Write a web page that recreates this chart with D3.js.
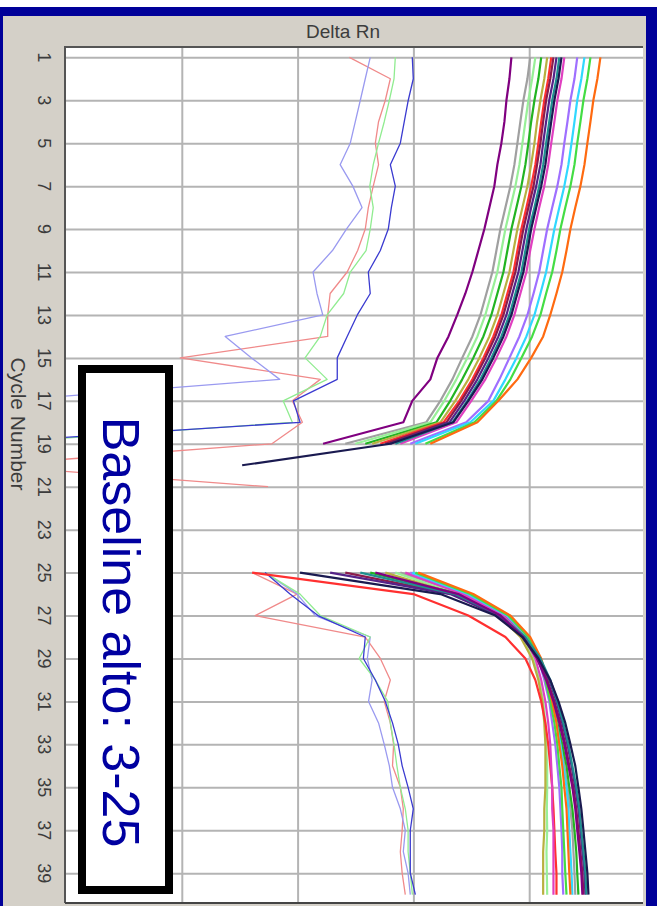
<!DOCTYPE html>
<html>
<head>
<meta charset="utf-8">
<script src="https://cdn.jsdelivr.net/npm/d3@7/dist/d3.min.js"></script>
<style>
  html, body { margin: 0; padding: 0; background: #ffffff; }
  svg { display: block; }
</style>
</head>
<body>
<svg id="chart" width="660" height="906"></svg>
<script>
// ---- Axis tick labels --------------------------------------------------
const cycleTicks = [1, 3, 5, 7, 9, 11, 13, 15, 17, 19, 21, 23, 25, 27, 29, 31, 33, 35, 37, 39];
const deltaRnGrid = [0.001, 0.01, 0.1, 1];

// ---- Cycles covered by each section of the curves ----------------------
const topCycles = [1, 2, 3, 4, 5, 6, 7, 8, 9, 10, 11, 12, 13, 14, 15, 16, 17, 18, 19, 20, 21];
const bottomCycles = [25, 26, 27, 28, 29, 30, 31, 32, 33, 34, 35, 36, 37, 38, 39, 40];

// ---- Sample wells: Delta Rn, cycles 1-19(20) and 25-40 -----------------
const wellColors = ["#a0a0a0", "#98f098", "#22b422", "#b8b040", "#ff3030", "#e040c0",
                    "#9f6fff", "#30d8ff", "#44dd44", "#ff6a10", "#8b1c4b", "#552288",
                    "#1f8f8f", "#800080", "#1a1a50"];

const grayTop   = [1.02, .965, .891, .839, .791, .745, .688, .623, .564, .521, .481, .427, .379, .323, .264, .217, .171, .129, .0258];
const grayBot   = [.0771, .281, .623, .946, 1.20, 1.40, 1.58, 1.75, 1.90, 2.01, 2.14, 2.27, 2.36, 2.41, 2.46, 2.50];
const lgreenTop = [1.13, 1.06, .984, .927, .874, .823, .760, .688, .623, .575, .531, .471, .418, .357, .292, .235, .185, .140, .0315];
const lgreenBot = [.0698, .244, .564, .874, 1.09, 1.22, 1.32, 1.38, 1.40, 1.43, 1.43, 1.42, 1.43, 1.41, 1.42, 1.43];
const greenTop  = [1.27, 1.20, 1.11, 1.04, .984, .927, .856, .776, .702, .648, .599, .531, .471, .402, .329, .264, .208, .158, .0384];
const greenBot  = [.0424, .254, .599, .927, 1.20, 1.40, 1.58, 1.75, 1.93, 2.10, 2.22, 2.36, 2.46, 2.55, 2.60, 2.66];
const oliveTop  = [1.43, 1.35, 1.25, 1.17, 1.11, 1.04, .965, .874, .791, .731, .675, .599, .531, .453, .371, .298, .230, .171, .0441];
const oliveBot  = [.0572, .230, .542, .839, 1.06, 1.20, 1.30, 1.35, 1.38, 1.38, 1.38, 1.35, 1.35, 1.32, 1.32, 1.32];
const redTop    = [1.55, 1.46, 1.35, 1.27, 1.20, 1.13, 1.04, .946, .856, .791, .731, .648, .575, .490, .402, .323, .249, .182, .0518];
const redBot    = [.00405, .0998, .298, .623, .927, 1.13, 1.27, 1.38, 1.46, 1.52, 1.58, 1.62, 1.65, 1.68, 1.72, 1.72];
const magTop    = [2.01, 1.90, 1.75, 1.65, 1.55, 1.46, 1.35, 1.22, 1.11, 1.02, .946, .839, .745, .636, .521, .418, .316, .235, .0771];
const magBot    = [.0851, .264, .599, .909, 1.13, 1.27, 1.38, 1.46, 1.52, 1.55, 1.58, 1.58, 1.62, 1.62, 1.62, 1.62];
const violetTop = [2.60, 2.46, 2.27, 2.14, 2.01, 1.90, 1.75, 1.58, 1.43, 1.32, 1.22, 1.09, .965, .823, .675, .553, .444, .286, .094];
const violetBot = [.094, .292, .636, .965, 1.20, 1.35, 1.49, 1.58, 1.68, 1.75, 1.82, 1.86, 1.90, 1.93, 1.93, 1.97];
const cyanTop   = [3.00, 2.82, 2.60, 2.46, 2.32, 2.18, 2.01, 1.82, 1.65, 1.52, 1.40, 1.25, 1.11, .946, .776, .623, .490, .310, .104];
const cyanBot   = [.0978, .298, .648, .984, 1.25, 1.43, 1.58, 1.72, 1.86, 1.97, 2.10, 2.18, 2.22, 2.27, 2.32, 2.36];
const bgreenTop = [3.38, 3.18, 2.94, 2.77, 2.60, 2.46, 2.27, 2.05, 1.86, 1.72, 1.58, 1.40, 1.25, 1.06, .856, .688, .521, .336, .127];
const bgreenBot = [.104, .310, .661, .984, 1.22, 1.38, 1.52, 1.65, 1.75, 1.82, 1.90, 1.93, 1.97, 2.01, 2.05, 2.10];
const orangeTop = [4.12, 3.88, 3.58, 3.38, 3.18, 3.00, 2.77, 2.50, 2.27, 2.10, 1.93, 1.72, 1.52, 1.32, 1.04, .791, .542, .357, .140];
const orangeBot = [.110, .329, .688, 1.02, 1.27, 1.43, 1.58, 1.72, 1.82, 1.93, 2.01, 2.10, 2.14, 2.18, 2.22, 2.27];
const maroonTop = [1.62, 1.52, 1.40, 1.32, 1.25, 1.17, 1.09, .984, .891, .823, .760, .675, .599, .510, .418, .336, .259, .193, .0572];
const maroonBot = [.0258, .217, .531, .874, 1.17, 1.43, 1.65, 1.86, 2.05, 2.22, 2.41, 2.55, 2.66, 2.77, 2.88, 2.94];
const dpurpTop  = [1.72, 1.62, 1.49, 1.40, 1.32, 1.25, 1.15, 1.04, .946, .874, .807, .716, .636, .542, .444, .357, .275, .205, .0632];
const dpurpBot  = [.0191, .208, .542, .909, 1.22, 1.49, 1.72, 1.93, 2.14, 2.32, 2.50, 2.66, 2.77, 2.88, 3.00, 3.06];
const tealTop   = [1.82, 1.72, 1.58, 1.49, 1.40, 1.32, 1.22, 1.11, 1.00, .927, .856, .760, .675, .575, .471, .379, .292, .217, .0698];
const tealBot   = [.0348, .230, .564, .927, 1.25, 1.52, 1.75, 1.97, 2.18, 2.36, 2.55, 2.71, 2.82, 2.94, 3.06, 3.12];
const purpleTop = [.702, .675, .636, .611, .575, .531, .500, .453, .410, .364, .323, .281, .239, .201, .161, .140, .0978, .0818, .0166];
const purpleBot = [.0469, .244, .564, .891, 1.17, 1.40, 1.62, 1.82, 2.01, 2.18, 2.36, 2.50, 2.60, 2.71, 2.82, 2.88];
const navyTop   = [1.90, 1.79, 1.65, 1.55, 1.46, 1.38, 1.27, 1.15, 1.04, .965, .891, .791, .702, .599, .490, .394, .298, .221, .0632, .00332];
const navyBot   = [.0105, .171, .510, .874, 1.20, 1.52, 1.79, 2.05, 2.27, 2.50, 2.66, 2.82, 2.94, 3.06, 3.18, 3.25];

const wellTops = [grayTop, lgreenTop, greenTop, oliveTop, redTop, magTop, violetTop, cyanTop,
                  bgreenTop, orangeTop, maroonTop, dpurpTop, tealTop, purpleTop, navyTop];
const wellBots = [grayBot, lgreenBot, greenBot, oliveBot, redBot, magBot, violetBot, cyanBot,
                  bgreenBot, orangeBot, maroonBot, dpurpBot, tealBot, purpleBot, navyBot];

// ---- No-template controls ----------------------------------------------
const ntcColors = ["#f08a8a", "#9a9af0", "#90ec90", "#3a3ad0"];
const ntcRedTop   = [.0280, .0632, .0572, .0500, .0469, .0500, .0450, .0408, .0384, .0330, .0268, .0191, .0182, .0182, .00097, .0157, .0090, .0110, .0060, .00002, .00556];
const ntcRedBot   = [.00405, .0099, .0043, .0384, .0518, .0632, .0560, .0632, .0675, .0660, .0771, .0818, .0800, .0771, .0800, .0851];
const ntcLavTop   = [.0424, .0384, .0348, .0315, .0285, .0233, .0300, .0360, .0264, .0200, .0136, .0147, .0165, .00237, .0040, .0070, .00003];
const ntcLavBot   = [.00524, .0099, .0142, .0424, .0400, .0440, .0410, .0500, .0560, .0620, .0660, .0771, .0851, .0818, .0900, .0940];
const ntcGreenTop = [.0698, .0680, .0620, .0560, .0500, .0450, .0420, .0450, .0424, .0390, .0285, .0250, .0180, .0157, .0116, .0180, .0075, .0090, .00002];
const ntcGreenBot = [.00524, .0105, .0157, .0424, .0340, .0469, .0600, .0632, .0680, .0720, .0771, .0851, .0900, .0900, .0940, .0980];
const ntcBlueTop  = [.0978, .0998, .0903, .0834, .0771, .0632, .0698, .0645, .0607, .0518, .0408, .0424, .0328, .0268, .0220, .0220, .0092, .0105, .000013];
const ntcBlueBot  = [.00524, .0086, .0150, .0384, .0370, .0469, .0572, .0660, .0740, .0800, .0900, .0998, .0940, .0940, .0940, .104];

const ntcTops = [ntcRedTop, ntcLavTop, ntcGreenTop, ntcBlueTop];
const ntcBots = [ntcRedBot, ntcLavBot, ntcGreenBot, ntcBlueBot];

// ---- Layout --------------------------------------------------------------
const W = 660, H = 906;
const plot = { left: 65, top: 47, right: 643, bottom: 903 };

const svg = d3.select("#chart");

const x = d3.scaleLog().domain([1e-4, 10]).range([66, 645]);
const y = d3.scaleLinear().domain([1, 39]).range([57.3, 873.2]);

// window frame
svg.append("rect").attr("x", 0).attr("y", 7).attr("width", 657).attr("height", H - 7).attr("fill", "#000099");
svg.append("rect").attr("x", 3).attr("y", 16).attr("width", 643).attr("height", H - 16).attr("fill", "#d4d0c8");

// plot background
svg.append("rect")
  .attr("x", plot.left).attr("y", plot.top)
  .attr("width", plot.right - plot.left).attr("height", plot.bottom - plot.top)
  .attr("fill", "#ffffff");

svg.append("clipPath").attr("id", "plotClip")
  .append("rect")
  .attr("x", plot.left).attr("y", plot.top)
  .attr("width", plot.right - plot.left).attr("height", plot.bottom - plot.top);

// grid lines
const gridColor = "#b4b4b4";
const yGrid = svg.append("g")
  .attr("transform", `translate(${plot.left},0)`)
  .call(d3.axisLeft(y).tickValues(cycleTicks).tickSize(-(plot.right - plot.left)).tickFormat(""));
yGrid.select(".domain").remove();
yGrid.selectAll("line").attr("stroke", gridColor).attr("stroke-width", 2);

const xGrid = svg.append("g")
  .attr("transform", `translate(0,${plot.top})`)
  .call(d3.axisTop(x).tickValues(deltaRnGrid).tickSize(-(plot.bottom - plot.top)).tickFormat(""));
xGrid.select(".domain").remove();
xGrid.selectAll("line").attr("stroke", gridColor).attr("stroke-width", 2);

// curves
const curves = svg.append("g").attr("clip-path", "url(#plotClip)");

function drawSeries(cycles, values, color, width) {
  const pts = values.map((v, i) => [cycles[i], v]);
  const line = d3.line()
    .defined(d => d[1] != null && d[1] > 0)
    .x(d => x(d[1]))
    .y(d => y(d[0]));
  curves.append("path")
    .attr("d", line(pts))
    .attr("fill", "none")
    .attr("stroke", color)
    .attr("stroke-width", width)
    .attr("stroke-linejoin", "round");
}

ntcTops.forEach((vals, i) => drawSeries(topCycles, vals, ntcColors[i], 1.3));
ntcBots.forEach((vals, i) => drawSeries(bottomCycles, vals, ntcColors[i], 1.3));
wellTops.forEach((vals, i) => drawSeries(topCycles, vals, wellColors[i], 2.2));
wellBots.forEach((vals, i) => drawSeries(bottomCycles, vals, wellColors[i], 2.2));

// plot border (sunken)
svg.append("path")
  .attr("d", `M${plot.left},${plot.bottom} V${plot.top} H${plot.right}`)
  .attr("fill", "none").attr("stroke", "#555555").attr("stroke-width", 2);
svg.append("path")
  .attr("d", `M${plot.left},${plot.bottom} H${plot.right}`)
  .attr("fill", "none").attr("stroke", "#444444").attr("stroke-width", 2);

// cycle tick labels (rotated)
const labelFont = "'Liberation Sans', Arial, sans-serif";
svg.append("g").selectAll("text")
  .data(cycleTicks)
  .join("text")
  .attr("transform", d => `translate(38,${y(d)}) rotate(90)`)
  .attr("text-anchor", "middle")
  .attr("font-family", labelFont)
  .attr("font-size", 18)
  .attr("fill", "#3c3c3c")
  .text(d => d);

// axis titles
svg.append("text")
  .attr("transform", `translate(11,424) rotate(90)`)
  .attr("text-anchor", "middle")
  .attr("font-family", labelFont)
  .attr("font-size", 21)
  .attr("fill", "#3c3c3c")
  .text("Cycle Number");

svg.append("text")
  .attr("x", 343).attr("y", 38)
  .attr("text-anchor", "middle")
  .attr("font-family", labelFont)
  .attr("font-size", 19)
  .attr("fill", "#3c3c3c")
  .text("Delta Rn");

// baseline annotation
svg.append("rect")
  .attr("x", 82).attr("y", 369).attr("width", 87).attr("height", 521)
  .attr("fill", "#ffffff").attr("stroke", "#000000").attr("stroke-width", 8);
svg.append("text")
  .attr("transform", `translate(103,632) rotate(90)`)
  .attr("text-anchor", "middle")
  .attr("font-family", labelFont)
  .attr("font-size", 52)
  .attr("fill", "#0000a0")
  .text("Baseline alto: 3-25");
</script>
</body>
</html>
